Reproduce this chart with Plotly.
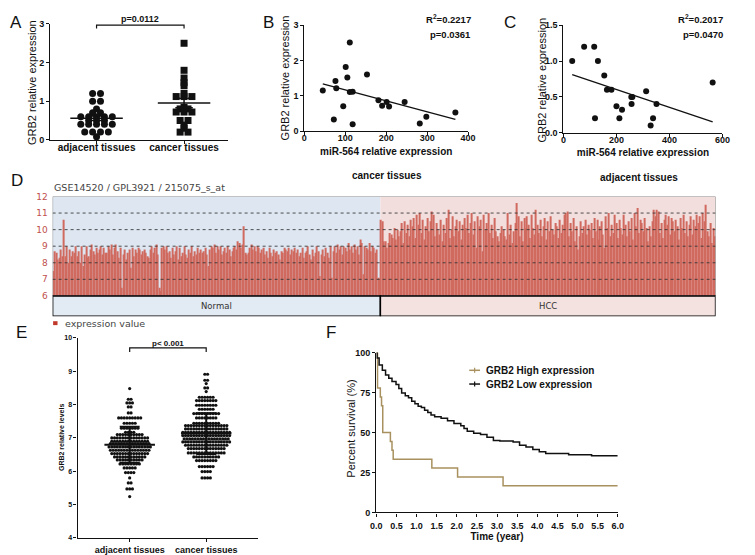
import numpy as np
import plotly.graph_objects as go

W, H = 755, 555
FONT = "Liberation Sans"
INK = "#111111"
TAN = "#a8915f"

# ---------------- A: qPCR GRB2, beeswarm rows (level, count)
a_adj_lv = [1.2, 1.0, 0.8, 0.7, 0.6, 0.5, 0.4, 0.2, 0.08]
a_adj_n = [2, 2, 1, 2, 5, 3, 5, 4, 1]
a_can_lv = [2.5, 1.8, 1.6, 1.48, 1.4, 1.2, 1.12, 0.84, 0.8, 0.72, 0.5, 0.38, 0.3, 0.2]
a_can_n = [1, 1, 1, 1, 1, 1, 3, 1, 2, 3, 2, 1, 1, 2]
a_groups = ["adjacent tissues", "cancer tissues"]

# ---------------- B: cancer tissues, miR-564 vs GRB2
b_mir = [45, 76, 78, 101, 105, 111, 111, 118, 118, 153, 95, 72, 181, 190, 201, 207, 245, 282, 298, 369]
b_grb2 = [1.15, 1.42, 1.22, 1.82, 1.52, 2.51, 1.11, 1.12, 0.2, 1.61, 0.71, 0.33, 0.88, 0.72, 0.83, 0.70, 0.83, 0.22, 0.41, 0.53]

# ---------------- C: adjacent tissues, miR-564 vs GRB2
c_mir = [33, 78, 116, 130, 154, 164, 181, 119, 200, 221, 211, 256, 260, 257, 312, 351, 338, 329, 563]
c_grb2 = [1.0, 1.2, 1.2, 1.0, 0.8, 0.6, 0.6, 0.2, 0.37, 0.32, 0.2, 0.5, 0.5, 0.4, 0.58, 0.4, 0.2, 0.1, 0.7]

# ---------------- D: GSE14520 / GPL3921 / 215075_s_at expression values
d_normal = [
    7.5, 8.7, 8.6, 8.2, 8.3, 8.8, 8.4, 10.6, 8.4, 9.0, 8.0, 8.8, 8.4, 8.7, 8.6, 9.0, 8.4, 8.7, 8.0, 9.0,
    7.8, 8.5, 9.0, 8.3, 8.4, 8.8, 9.1, 8.7, 8.5, 8.9, 8.6, 8.8, 9.0, 8.5, 8.9, 8.6, 8.6, 9.0, 8.8, 9.1,
    8.5, 8.9, 9.1, 8.7, 8.3, 8.9, 6.5, 8.5, 8.8, 8.2, 8.6, 8.8, 7.7, 8.9, 8.4, 8.8, 8.6, 8.9, 8.8, 8.5,
    8.7, 8.8, 8.6, 8.4, 8.3, 8.8, 9.0, 8.6, 8.9, 9.1, 8.5, 6.5, 6.3, 8.9, 9.0, 8.8, 9.0, 8.6, 8.7, 8.3,
    8.9, 8.5, 8.7, 9.0, 8.2, 8.9, 8.4, 8.6, 9.0, 8.5, 8.3, 8.8, 8.6, 9.0, 8.4, 8.7, 8.5, 8.9, 8.6, 8.8,
    8.6, 8.7, 8.9, 8.5, 7.8, 8.8, 9.0, 8.9, 9.1, 8.6, 9.0, 8.8, 9.0, 8.5, 8.7, 8.9, 8.6, 9.0, 8.8, 8.4,
    8.7, 8.9, 9.0, 8.8, 9.3, 9.2, 8.9, 9.1, 10.2, 8.6, 8.5, 8.6, 8.9, 9.1, 8.8, 9.0, 8.7, 9.0, 8.9, 8.6,
    8.8, 8.9, 8.5, 8.7, 8.3, 8.9, 8.6, 8.4, 8.8, 8.6, 8.7, 8.5, 8.2, 8.7, 8.6, 8.9, 8.8, 8.7, 8.9, 8.5,
    8.8, 8.7, 8.9, 8.6, 8.8, 8.4, 8.6, 8.9, 8.3, 8.6, 8.7, 9.0, 8.5, 8.2, 8.8, 8.4, 8.6, 9.0, 8.7, 7.2,
    8.5, 8.8, 8.4, 8.9, 8.6, 8.3, 9.0, 7.1, 8.7, 9.0, 8.6, 9.1, 8.8, 9.0, 8.5, 9.0, 8.9, 8.7, 9.2, 8.8,
    9.0, 8.6, 9.1, 8.8, 9.0, 8.5, 9.4, 9.2, 7.3, 9.0, 8.9, 8.8, 9.2, 8.7, 9.0, 8.9, 8.6, 8.8, 7.1, 7.0,
]
d_hcc = [
    10.6, 10.5, 9.3, 9.3, 8.9, 9.2, 9.8, 9.7, 9.5, 10.1, 9.4, 10.0, 9.6, 9.9, 10.4, 9.2, 10.5, 9.8, 10.3, 9.6,
    10.6, 10.2, 10.7, 9.5, 10.9, 10.3, 11.0, 9.8, 10.6, 9.4, 10.2, 10.7, 9.9, 10.5, 11.1, 10.9, 9.6, 10.4, 10.0, 9.7,
    10.6, 9.3, 10.3, 9.8, 10.7, 11.2, 9.5, 10.0, 10.8, 9.6, 10.2, 10.6, 9.9, 10.5, 9.4, 10.3, 10.7, 10.1, 10.9, 9.8,
    10.4, 11.0, 9.7, 10.5, 8.9, 10.8, 10.2, 10.6, 8.7, 10.9, 10.0, 10.4, 11.0, 9.8, 10.3, 9.5, 10.7, 9.9, 9.6, 9.3,
    9.8, 10.2, 10.0, 9.6, 9.4, 11.0, 9.7, 10.3, 9.2, 9.9, 10.4, 11.6, 10.8, 9.6, 10.5, 9.3, 10.7, 10.1, 10.8, 10.3,
    9.5, 10.9, 10.1, 9.7, 11.2, 10.3, 9.8, 10.6, 9.6, 10.2, 10.7, 9.4, 10.5, 9.9, 10.8, 10.0, 9.7, 10.4, 10.2, 9.5,
    10.6, 9.8, 10.3, 10.9, 11.0, 11.1, 9.6, 10.4, 9.9, 10.7, 9.3, 10.2, 8.8, 9.6, 10.5, 9.8, 10.2, 10.6, 9.7, 10.3,
    10.0, 10.4, 9.5, 10.7, 9.9, 10.6, 9.4, 10.2, 10.5, 9.7, 8.9, 10.8, 10.1, 11.0, 9.6, 10.3, 9.8, 10.9, 10.4, 9.5,
    10.6, 10.1, 9.7, 10.9, 10.3, 9.6, 10.5, 9.9, 10.7, 9.4, 11.0, 10.2, 11.3, 9.8, 10.6, 10.4, 9.9, 10.7, 10.1, 9.3,
    10.2, 9.6, 10.5, 11.2, 10.8, 11.2, 11.1, 9.8, 10.4, 9.5, 10.6, 10.9, 10.3, 10.8, 9.7, 10.7, 10.5, 9.9, 10.6, 10.2,
    9.4, 10.7, 10.1, 10.9, 9.8, 10.5, 9.6, 10.3, 10.8, 9.7, 10.6, 10.2, 10.9, 10.4, 10.8, 9.5, 11.0, 10.5, 11.5, 9.9,
    9.6, 10.4, 9.2, 10.1, 9.6,
]

# ---------------- E: GRB2 levels in GEO cohort, beeswarm rows (level, count)
e_adj_lv = [8.48, 8.16, 8.05, 7.93, 7.75, 7.6, 7.44, 7.29, 7.17, 7.1, 7.0, 6.9, 6.83, 6.73, 6.63,
            6.53, 6.43, 6.34, 6.22, 6.1, 5.96, 5.8, 5.65, 5.47, 5.24]
e_adj_n = [1, 2, 3, 2, 2, 9, 5, 7, 4, 10, 14, 14, 15, 16, 15, 14, 12, 10, 8, 5, 4, 1, 2, 3, 1]
e_can_lv = [8.91, 8.73, 8.63, 8.5, 8.39, 8.22, 8.12, 7.98, 7.86, 7.73, 7.6, 7.44, 7.37, 7.27, 7.17,
            7.07, 6.97, 6.88, 6.78, 6.68, 6.55, 6.43, 6.32, 6.14, 5.99, 5.8]
e_can_n = [2, 2, 1, 2, 1, 6, 8, 8, 6, 10, 8, 10, 16, 16, 18, 18, 17, 18, 16, 14, 14, 10, 8, 6, 4, 4]

# ---------------- F: Kaplan-Meier
f_high_t = [0, 0.03, 0.10, 0.13, 0.16, 0.35, 0.39, 0.42, 1.38, 2.02, 3.15, 6.0]
f_high_s = [100, 77.8, 72.2, 66.7, 50.0, 44.4, 38.9, 33.3, 27.8, 22.2, 16.7, 16.7]
f_low_t = [0, 0.02, 0.07, 0.15, 0.23, 0.31, 0.39, 0.49, 0.56, 0.63, 0.72, 0.80, 0.88, 0.96, 1.04,
           1.12, 1.2, 1.28, 1.36, 1.45, 1.61, 1.77, 1.93, 2.1, 2.18, 2.26, 2.42, 2.59, 2.75, 2.91,
           3.07, 3.4, 3.56, 3.72, 3.89, 4.05, 4.21, 4.54, 4.78, 5.35, 6.0]
f_low_s = [100, 96.7, 92.2, 89, 86, 84, 82, 80, 77.5, 74.8, 73, 71.7, 69.5, 68, 66.5,
           65.6, 64, 62.5, 61, 59.8, 59, 57.4, 55.7, 54.3, 52.5, 50.8, 49.6, 48.8, 47.1, 45,
           44.7, 44, 42, 41, 39.3, 37.9, 36.9, 36.9, 36, 35.5, 35.5]
f_names = ["GRB2 High expression", "GRB2 Low expression"]


def px(x):
    return x / W


def py(y):
    return 1 - y / H


def swarm(levels, counts, center, step):
    xs, ys = [], []
    for lv, n in zip(levels, counts):
        for i in range(n):
            xs.append(center + (i - (n - 1) / 2) * step)
            ys.append(lv)
    return xs, ys


def mean_bars(center, vals, err, half_mean, half_cap):
    m = float(np.mean(vals))
    xs = [center - half_mean, center + half_mean, None, center, center, None,
          center - half_cap, center + half_cap, None, center - half_cap, center + half_cap]
    ys = [m, m, None, m - err, m + err, None, m + err, m + err, None, m - err, m - err]
    return xs, ys


def axis(domain, rng, size=9, **kw):
    d = dict(domain=domain, range=rng, showline=True, linecolor=INK, linewidth=1.3,
             ticks="outside", ticklen=3, tickwidth=1.3, tickcolor=INK, showgrid=False,
             zeroline=False, tickfont=dict(family=FONT, size=size, color=INK, weight="bold"))
    d.update(kw)
    return d


def ttl(text, size=11, bold=False, standoff=4):
    return dict(text=text, standoff=standoff,
                font=dict(family=FONT, size=size, color=INK, weight="bold" if bold else "normal"))


fig = go.Figure()

# ---- A
for i, (lv, n, sym) in enumerate([(a_adj_lv, a_adj_n, "circle"), (a_can_lv, a_can_n, "square")]):
    xs, ys = swarm(lv, n, i, 0.09)
    fig.add_trace(go.Scatter(x=xs, y=ys, mode="markers", xaxis="x", yaxis="y", showlegend=False,
                             marker=dict(symbol=sym, size=7, color=INK), cliponaxis=False))
    vals = np.repeat(lv, n)
    sem = np.std(vals, ddof=1) / np.sqrt(len(vals))
    mx, my = mean_bars(i, vals, sem, 0.3, 0.1)
    fig.add_trace(go.Scatter(x=mx, y=my, mode="lines", xaxis="x", yaxis="y", showlegend=False,
                             line=dict(color=INK, width=1.5), cliponaxis=False))

# ---- B and C
for xa, ya, xv, yv in [("x2", "y2", b_mir, b_grb2), ("x3", "y3", c_mir, c_grb2)]:
    fig.add_trace(go.Scatter(x=xv, y=yv, mode="markers", xaxis=xa, yaxis=ya, showlegend=False,
                             marker=dict(size=6, color=INK), cliponaxis=False))
    k, b0 = np.polyfit(xv, yv, 1)
    lx = [min(xv), max(xv)]
    fig.add_trace(go.Scatter(x=lx, y=[k * v + b0 for v in lx], mode="lines", xaxis=xa, yaxis=ya,
                             showlegend=False, line=dict(color=INK, width=1.3)))

# ---- D
d_all = d_normal + d_hcc
fig.add_trace(go.Bar(x=list(range(len(d_all))), y=[v - 6 for v in d_all], base=6, xaxis="x4", yaxis="y4",
                     marker=dict(color="#d06a5e", line=dict(width=0)), showlegend=False))

# ---- E
for i, (lv, n) in enumerate([(e_adj_lv, e_adj_n), (e_can_lv, e_can_n)]):
    xs, ys = swarm(lv, n, i, 0.036)
    fig.add_trace(go.Scatter(x=xs, y=ys, mode="markers", xaxis="x5", yaxis="y5", showlegend=False,
                             marker=dict(size=3.2, color=INK), cliponaxis=False))
    vals = np.repeat(lv, n)
    mx, my = mean_bars(i, vals, np.std(vals, ddof=1), 0.33, 0.13)
    fig.add_trace(go.Scatter(x=mx, y=my, mode="lines", xaxis="x5", yaxis="y5", showlegend=False,
                             line=dict(color=INK, width=2), cliponaxis=False))

# ---- F
for t, s, col in [(f_high_t, f_high_s, TAN), (f_low_t, f_low_s, INK)]:
    fig.add_trace(go.Scatter(x=t, y=s, mode="lines", line_shape="hv", xaxis="x6", yaxis="y6",
                             showlegend=False, line=dict(color=col, width=1.5), cliponaxis=False))

n_norm = len(d_normal)
n_all = len(d_all)
shapes = [
    # D backgrounds
    dict(type="rect", xref="x4", yref="y4", x0=-0.5, x1=n_norm - 0.5, y0=6, y1=12,
         fillcolor="#dde6f1", line_width=0, layer="below"),
    dict(type="rect", xref="x4", yref="y4", x0=n_norm - 0.5, x1=n_all - 0.5, y0=6, y1=12,
         fillcolor="#f2dedd", line_width=0, layer="below"),
    dict(type="rect", xref="x4", yref="y4", x0=-0.5, x1=n_all - 0.5, y0=6, y1=12,
         line=dict(color="#888888", width=1), layer="above"),
    dict(type="rect", xref="x4", yref="y4", x0=-0.5, x1=n_norm - 0.5, y0=4.77, y1=6,
         fillcolor="#e2eaf3", line=dict(color="black", width=1.5), layer="above"),
    dict(type="rect", xref="x4", yref="y4", x0=n_norm - 0.5, x1=n_all - 0.5, y0=4.77, y1=6,
         fillcolor="#f4e2e1", line=dict(color="black", width=1.5), layer="above"),
    # D legend swatch
    dict(type="rect", xref="paper", yref="paper", x0=px(48), x1=px(52.5), y0=py(326), y1=py(322),
         fillcolor="#c0392b", line_width=0),
    # A bracket
    dict(type="path", xref="x", yref="y", path="M 0,2.88 L 0,2.97 L 1,2.97 L 1,2.88",
         line=dict(color=INK, width=1.2)),
    # E bracket
    dict(type="path", xref="x5", yref="y5", path="M 0,9.58 L 0,9.7 L 1,9.7 L 1,9.58",
         line=dict(color=INK, width=1.2)),
]
for g in [7, 8, 9, 10, 11]:
    shapes.append(dict(type="line", xref="x4", yref="y4", x0=-0.5, x1=n_all - 0.5, y0=g, y1=g,
                       line=dict(color="rgba(50,50,50,0.85)", width=1, dash="dot"), layer="above"))
# F legend keys (short line with censor tick)
for yk, col in [(372, TAN), (386, INK)]:
    shapes.append(dict(type="line", xref="paper", yref="paper", x0=px(472), x1=px(483), y0=py(yk), y1=py(yk),
                       line=dict(color=col, width=1.5)))
    shapes.append(dict(type="line", xref="paper", yref="paper", x0=px(477.5), x1=px(477.5),
                       y0=py(yk + 2.5), y1=py(yk - 2.5), line=dict(color=col, width=1.2)))


def note(x, y, text, size=10, bold=True, xanchor="center", ref=("paper", "paper"), color=INK,
         family=FONT, angle=0):
    return dict(x=x, y=y, xref=ref[0], yref=ref[1], text=text, showarrow=False, xanchor=xanchor,
                yanchor="middle", textangle=angle,
                font=dict(family=family, size=size, color=color, weight="bold" if bold else "normal"))


annotations = [
    note(px(10), py(18), "A", 17, False),
    note(px(267), py(18), "B", 17, False),
    note(px(514), py(18), "C", 17, False),
    note(px(11), py(179), "D", 17, False),
    note(px(16), py(333), "E", 17, False),
    note(px(331), py(334), "F", 17, False),
    # rotated y-axis titles
    note(px(26), py(79), "GRB2 relative expression", 11, False, angle=-90),
    note(px(284), py(74), "GRB2 relative expression", 11, False, angle=-90),
    note(px(546), py(76), "GRB2 relative expression", 11, False, angle=-90),
    note(px(56), py(440), "GRB2 relative levels", 7, True, angle=-90),
    note(px(352), py(431), "Percent survival (%)", 11, False, angle=-90),
    note(px(137), py(14), "p=0.0112", 9, True),
    note(px(476), py(14), "R<sup>2</sup>=0.2217", 9.5, True, "right"),
    note(px(476), py(30), "p=0.0361", 9.5, True, "right"),
    note(px(733), py(14), "R<sup>2</sup>=0.2017", 9.5, True, "right"),
    note(px(733), py(30), "p=0.0470", 9.5, True, "right"),
    note(px(388), py(174), "cancer tissues", 10, True),
    note(px(645), py(176), "adjacent tissues", 10, True),
    note(px(47), py(186), "GSE14520 / GPL3921 / 215075_s_at", 9.5, False, "left", color="#444444",
         family="DejaVu Sans"),
    note(px(58), py(324), "expression value", 9.5, False, "left", color="#444444", family="DejaVu Sans"),
    note((n_norm - 1) / 2, 5.38, "Normal", 8.5, False, ref=("x4", "y4"), color="#333333", family="DejaVu Sans"),
    note((n_norm + n_all - 1) / 2, 5.38, "HCC", 8.5, False, ref=("x4", "y4"), color="#333333",
         family="DejaVu Sans"),
    note(0.5, 9.84, "p< 0.001", 8, True, ref=("x5", "y5")),
    note(px(487), py(372), f_names[0], 10, True, "left"),
    note(px(487), py(386), f_names[1], 10, True, "left"),
]

fig.update_layout(
    width=W, height=H, margin=dict(l=0, r=0, t=0, b=0),
    paper_bgcolor="white", plot_bgcolor="rgba(0,0,0,0)",
    bargap=0.3, showlegend=False,
    shapes=shapes, annotations=annotations,
    # A
    xaxis=axis([px(45), px(226)], [-0.53, 1.5], size=10, anchor="y", tickvals=[0, 1], ticktext=a_groups,
               ticklabelstandoff=-5),
    yaxis=axis([py(137.3), py(19.3)], [0, 3], anchor="x", tickvals=[0, 1, 2, 3]),
    # B
    xaxis2=axis([px(304), px(470.8)], [0, 400], anchor="y2", tickvals=[0, 100, 200, 300, 400],
                ticklabelstandoff=-5, title=ttl("miR-564 relative expression", 10, True, 5)),
    yaxis2=axis([py(128.5), py(20.7)], [0, 3], anchor="x2", tickvals=[0, 1, 2, 3]),
    # C
    xaxis3=axis([px(568), px(730)], [0, 600], anchor="y3", tickvals=[0, 200, 400, 600],
                ticklabelstandoff=-5, title=ttl("miR-564 relative expression", 10, True, 5)),
    yaxis3=axis([py(130), py(20.7)], [0, 1.5], anchor="x3", tickvals=[0, 0.5, 1.0, 1.5], tickformat=".1f"),
    # D
    xaxis4=dict(domain=[px(47.5), px(723)], range=[-0.5, n_all - 0.5], anchor="y4", visible=False),
    yaxis4=dict(domain=[py(317), py(195)], range=[4.77, 12], anchor="x4", tickvals=[6, 7, 8, 9, 10, 11, 12],
                showgrid=False, zeroline=False, showline=False, ticks="", ticklabelstandoff=4,
                tickfont=dict(family="DejaVu Sans", size=9, color="#c0504d")),
    # E
    xaxis5=axis([px(73), px(257)], [-0.68, 1.68], size=9, anchor="y5", tickvals=[0, 1], ticktext=a_groups),
    yaxis5=axis([py(542.7), py(339)], [4, 10], size=7, anchor="x5", tickvals=[4, 5, 6, 7, 8, 9, 10]),
    # F
    xaxis6=axis([px(377.3), px(623.3)], [0, 6], anchor="y6", tickvals=[i * 0.5 for i in range(13)],
                tickformat=".1f", ticklabelstandoff=2, title=ttl("Time (year)", 10, True, 2)),
    yaxis6=axis([py(516.7), py(354)], [0, 100], anchor="x6", tickvals=[0, 25, 50, 75, 100]),
)

fig.write_html("out.html", post_script="document.body.style.margin='0';",
               config={"displayModeBar": False})
